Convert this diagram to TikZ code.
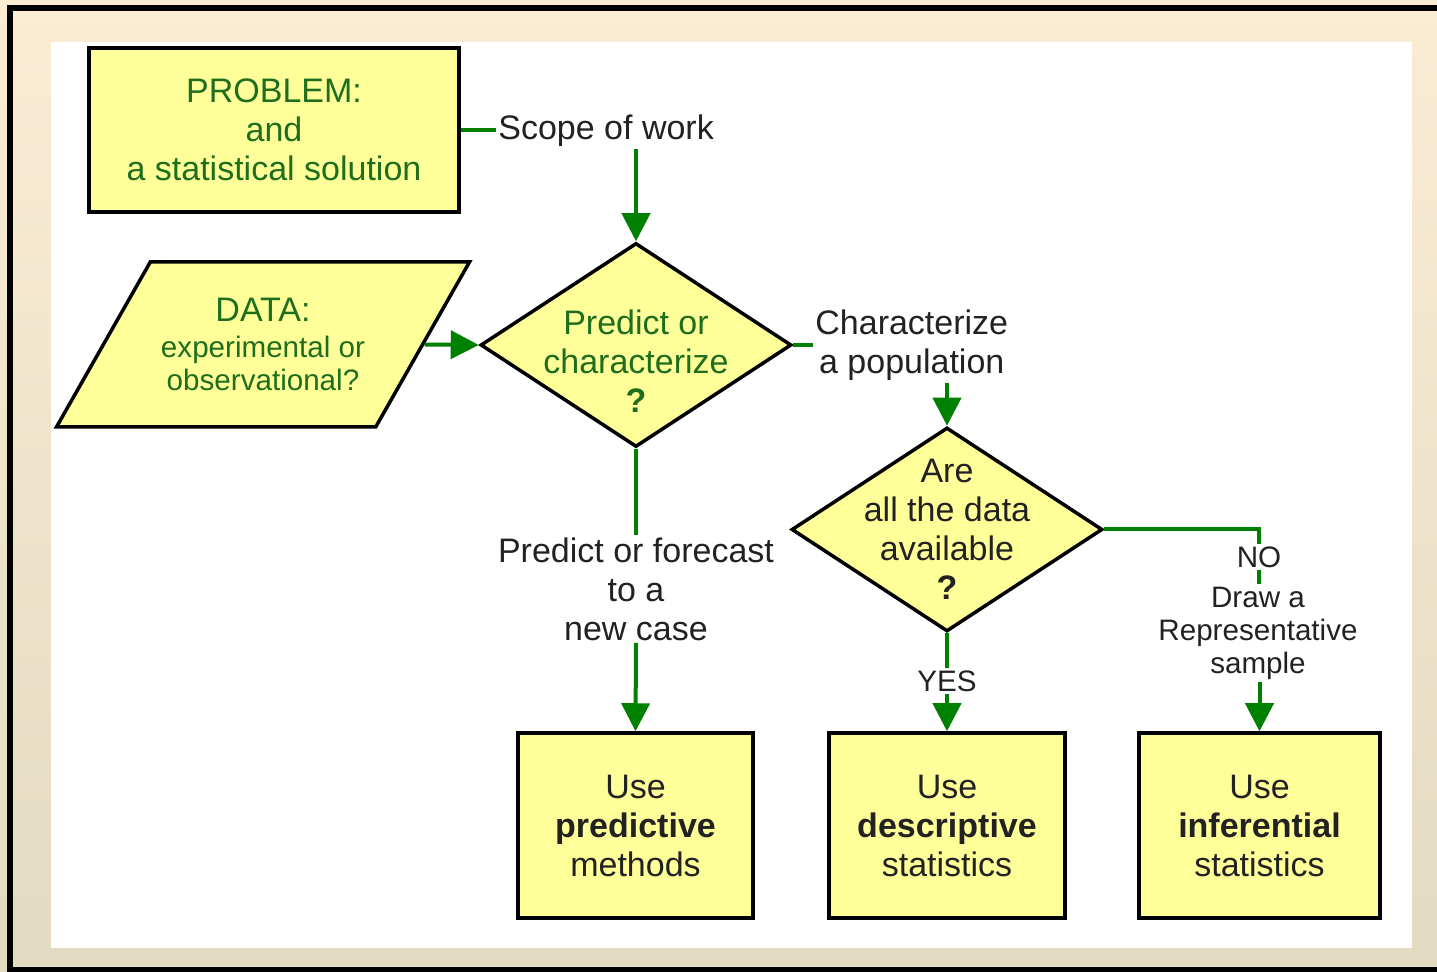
\documentclass[tikz,border=0pt]{standalone}
\usepackage{fontspec}
\setmainfont{Liberation Sans}
\usetikzlibrary{shapes.geometric,arrows.meta,positioning}

\definecolor{boxfill}{RGB}{255,255,153}
\definecolor{txtgreen}{RGB}{30,110,30}
\definecolor{linegreen}{RGB}{0,128,0}
\definecolor{bgtop}{RGB}{251,236,212}
\definecolor{bgbot}{RGB}{226,219,193}
\definecolor{labelgray}{RGB}{34,34,34}

\newcommand{\bigfont}{\fontsize{17}{19.5}\selectfont}
\newcommand{\smfont}{\fontsize{14.8}{16.5}\selectfont}

\tikzset{
  box/.style={draw=black,line width=1.75pt,fill=boxfill,align=center,inner sep=0pt,font=\bigfont},
  decision/.style={diamond,draw=black,line width=1.75pt,fill=boxfill,align=center,
    inner sep=-9pt,aspect=1.52,minimum width=155.5pt,minimum height=102pt,font=\bigfont},
  datashape/.style={trapezium,trapezium left angle=48.5,trapezium right angle=131.5,
    trapezium stretches body,draw=black,line width=1.75pt,fill=boxfill,align=center,
    minimum width=206.5pt,minimum height=82.5pt,text=txtgreen,font=\smfont},
  flow/.style={draw=linegreen,line width=2pt},
  flowarrow/.style={flow,-{Triangle[length=14pt,width=14pt]}},
  caption/.style={align=center,text=labelgray,inner sep=1pt,font=\bigfont},
  smallcaption/.style={caption,font=\smfont},
}

\begin{document}
\begin{tikzpicture}[x=0.5pt,y=-0.5pt]
\useasboundingbox (0,0) rectangle (1437,972);
\shade[top color=bgtop,bottom color=bgbot] (0,0) rectangle (1437,972);
\draw[line width=3pt] (1437,8) -- (10,8) -- (10,970) -- (1437,970);
\fill[white] (51,42) rectangle (1412,948);

\node[box,text=txtgreen,minimum width=185pt,minimum height=82pt] (prob) at (274,130) {PROBLEM:\\and\\a statistical solution};
\node[datashape] (data) at (263,344.5) {{\bigfont DATA:}\\[1.5pt]experimental or\\observational?};
\node[decision,text=txtgreen] (pc) at (636,345) {\rule{0pt}{29pt}Predict or\\characterize\\\textbf{?}};
\node[decision,text=labelgray] (avail) at (947,529.5) {Are\\all the data\\available\\\textbf{?}};

\node[box,text=labelgray,minimum width=117.5pt,minimum height=92.5pt] (pred) at (635.5,825.5) {Use\\\textbf{predictive}\\methods};
\node[box,text=labelgray,minimum width=118pt,minimum height=92.5pt] (desc) at (947,825.5) {Use\\\textbf{descriptive}\\statistics};
\node[box,text=labelgray,minimum width=120.5pt,minimum height=92.5pt] (infer) at (1259.5,825.5) {Use\\\textbf{inferential}\\statistics};

\node[caption,anchor=west] (scope) at (496,131) {Scope of work};
\node[caption,anchor=west] (char) at (813,345) {Characterize\\a population};
\node[caption] (fcast) at (636,589) {Predict or forecast\\to a\\new case};
\node[smallcaption] (yes) at (947,681) {YES};
\node[smallcaption] (no) at (1259,557) {NO};
\node[smallcaption] (rep) at (1258,633) {Draw a\\Representative\\sample};

\draw[flow] (prob.east) -- (prob.east -| scope.west);
\draw[flowarrow] (scope.south -| pc.north) -- (pc.north);
\draw[flowarrow] (data.east) -- (pc.west);
\draw[flow] (pc.east) -- (pc.east -| char.west);
\draw[flowarrow] (char.south -| avail.north) -- (avail.north);
\draw[flow] (pc.south) -- (fcast.north);
\draw[flowarrow] (fcast.south) -- (pred.north);
\draw[flow] (avail.south) -- (yes.north);
\draw[flowarrow] (yes.south) -- (desc.north);
\draw[flow] (avail.east) -| (no.north);
\draw[flow] (no.south) -- (no.south |- rep.north);
\draw[flowarrow] (rep.south -| infer.north) -- (infer.north);
\end{tikzpicture}
\end{document}
